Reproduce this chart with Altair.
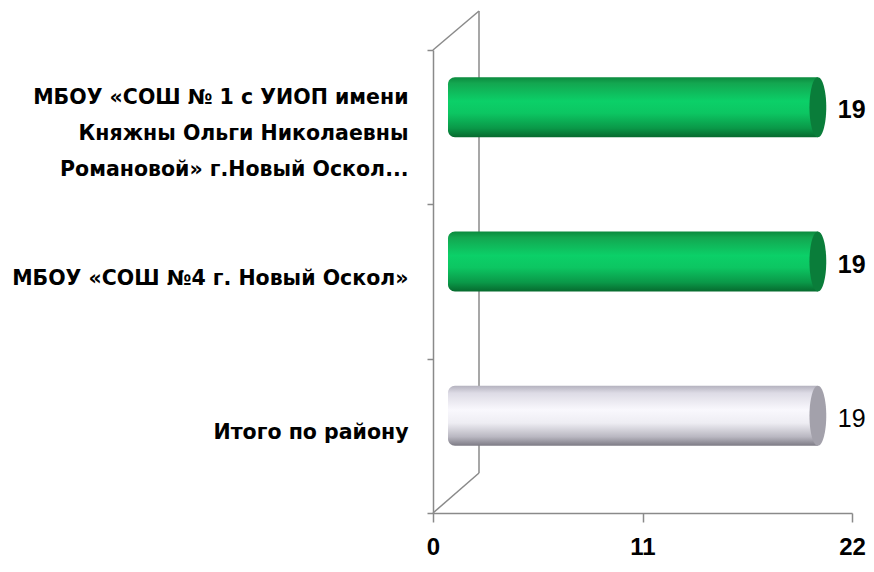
import altair as alt
import pandas as pd

# --- data ---
categories = [
    "МБОУ «СОШ № 1 с УИОП имени|Княжны Ольги Николаевны|Романовой» г.Новый Оскол...",
    "МБОУ «СОШ №4 г. Новый Оскол»",
    "Итого по району",
]
values = [19, 19, 19]
groups = ["school", "school", "total"]
x_ticks = [0, 11, 22]

df = pd.DataFrame({"category": categories, "value": values, "group": groups})

FONT = "DejaVu Sans"
NUM_FONT = "Liberation Sans"
AXIS_GRAY = "#8a8a8a"

green_grad = {
    "gradient": "linear", "x1": 0, "y1": 0, "x2": 0, "y2": 1,
    "stops": [
        {"offset": 0.0, "color": "#0c8a3e"},
        {"offset": 0.1, "color": "#13a650"},
        {"offset": 0.4, "color": "#0bd068"},
        {"offset": 0.6, "color": "#0cc662"},
        {"offset": 0.85, "color": "#0a9848"},
        {"offset": 1.0, "color": "#066a2e"},
    ],
}
gray_grad = {
    "gradient": "linear", "x1": 0, "y1": 0, "x2": 0, "y2": 1,
    "stops": [
        {"offset": 0.0, "color": "#b5b3bf"},
        {"offset": 0.12, "color": "#dddbe5"},
        {"offset": 0.4, "color": "#f9f8fd"},
        {"offset": 0.62, "color": "#eeedf3"},
        {"offset": 0.85, "color": "#b9b7c1"},
        {"offset": 1.0, "color": "#7c7a84"},
    ],
}

cap_shape = "M 0 -1 A 0.28 1 0 0 1 0 1 A 0.28 1 0 0 1 0 -1 Z"

x_enc = alt.X(
    "value:Q",
    scale=alt.Scale(domain=[0, 22], nice=False, zero=True),
    axis=alt.Axis(
        values=x_ticks, title=None, grid=False, tickSize=9,
        domainColor=AXIS_GRAY, tickColor=AXIS_GRAY, domainWidth=1.5, tickWidth=1.5,
        labelFont=NUM_FONT, labelFontSize=24, labelFontWeight="bold", labelColor="black",
        labelPadding=13, labelFlush=False, labelBaseline="top",
    ),
)
y_enc = alt.Y(
    "category:N",
    sort=categories,
    scale=alt.Scale(paddingInner=0, paddingOuter=0),
    axis=alt.Axis(
        title=None, tickBand="extent", tickSize=6,
        domainColor=AXIS_GRAY, tickColor=AXIS_GRAY, domainWidth=1.5, tickWidth=1.5,
        labelFont=FONT, labelFontSize=20.5, labelFontWeight="bold", labelColor="black",
        labelPadding=19, labelLimit=0, labelLineHeight=36,
        labelOffset={"condition": {"test": "indexof(datum.label, '|') >= 0", "value": -30}, "value": -3},
        labelExpr="split(datum.label, '|')",
    ),
)

base = alt.Chart(df)
wall = alt.Chart(pd.DataFrame({"k": [0]}))

back_line = wall.mark_rule(color=AXIS_GRAY, strokeWidth=1.5).encode(
    x=alt.value(46), y=alt.value(-39), y2=alt.value(423)
)
top_diag = wall.mark_rule(color=AXIS_GRAY, strokeWidth=1.5).encode(
    x=alt.value(0), y=alt.value(0), x2=alt.value(46), y2=alt.value(-39)
)
bot_diag = wall.mark_rule(color=AXIS_GRAY, strokeWidth=1.5).encode(
    x=alt.value(0), y=alt.value(463), x2=alt.value(46), y2=alt.value(423)
)


def series(group, grad, cap_color, weight):
    d = base.transform_filter(alt.datum.group == group)
    body = d.mark_bar(
        fill=grad, height=60, xOffset=15, x2Offset=23, yOffset=-20, y2Offset=-20,
        cornerRadiusTopLeft=7, cornerRadiusBottomLeft=7,
    ).encode(
        x=alt.X("zero:Q", scale=alt.Scale(domain=[0, 22])), x2="value:Q", y=y_enc
    ).transform_calculate(zero="0")
    cap = d.mark_point(
        shape=cap_shape, size=3600, filled=True, fill=cap_color, opacity=1,
        strokeWidth=0, xOffset=23, yOffset=-20,
    ).encode(x=x_enc, y=y_enc)
    text = d.mark_text(
        align="left", baseline="middle", dx=43, dy=-17, font=NUM_FONT,
        fontSize=25, fontWeight=weight, color="black",
    ).encode(x=x_enc, y=y_enc, text="value:Q")
    return [body, cap, text]


layers = [back_line, top_diag, bot_diag]
layers += series("school", green_grad, "#0a7d3a", "bold")
layers += series("total", gray_grad, "#a3a1ab", "normal")

chart = alt.layer(*layers).properties(
    width=419, height=463,
    autosize=alt.AutoSizeParams(type="none"),
    padding={"left": 425, "top": 42, "right": 14, "bottom": 50},
    background="white",
).configure_view(stroke=None)

chart.save("out.html", embed_options={"renderer": "svg", "actions": False})
